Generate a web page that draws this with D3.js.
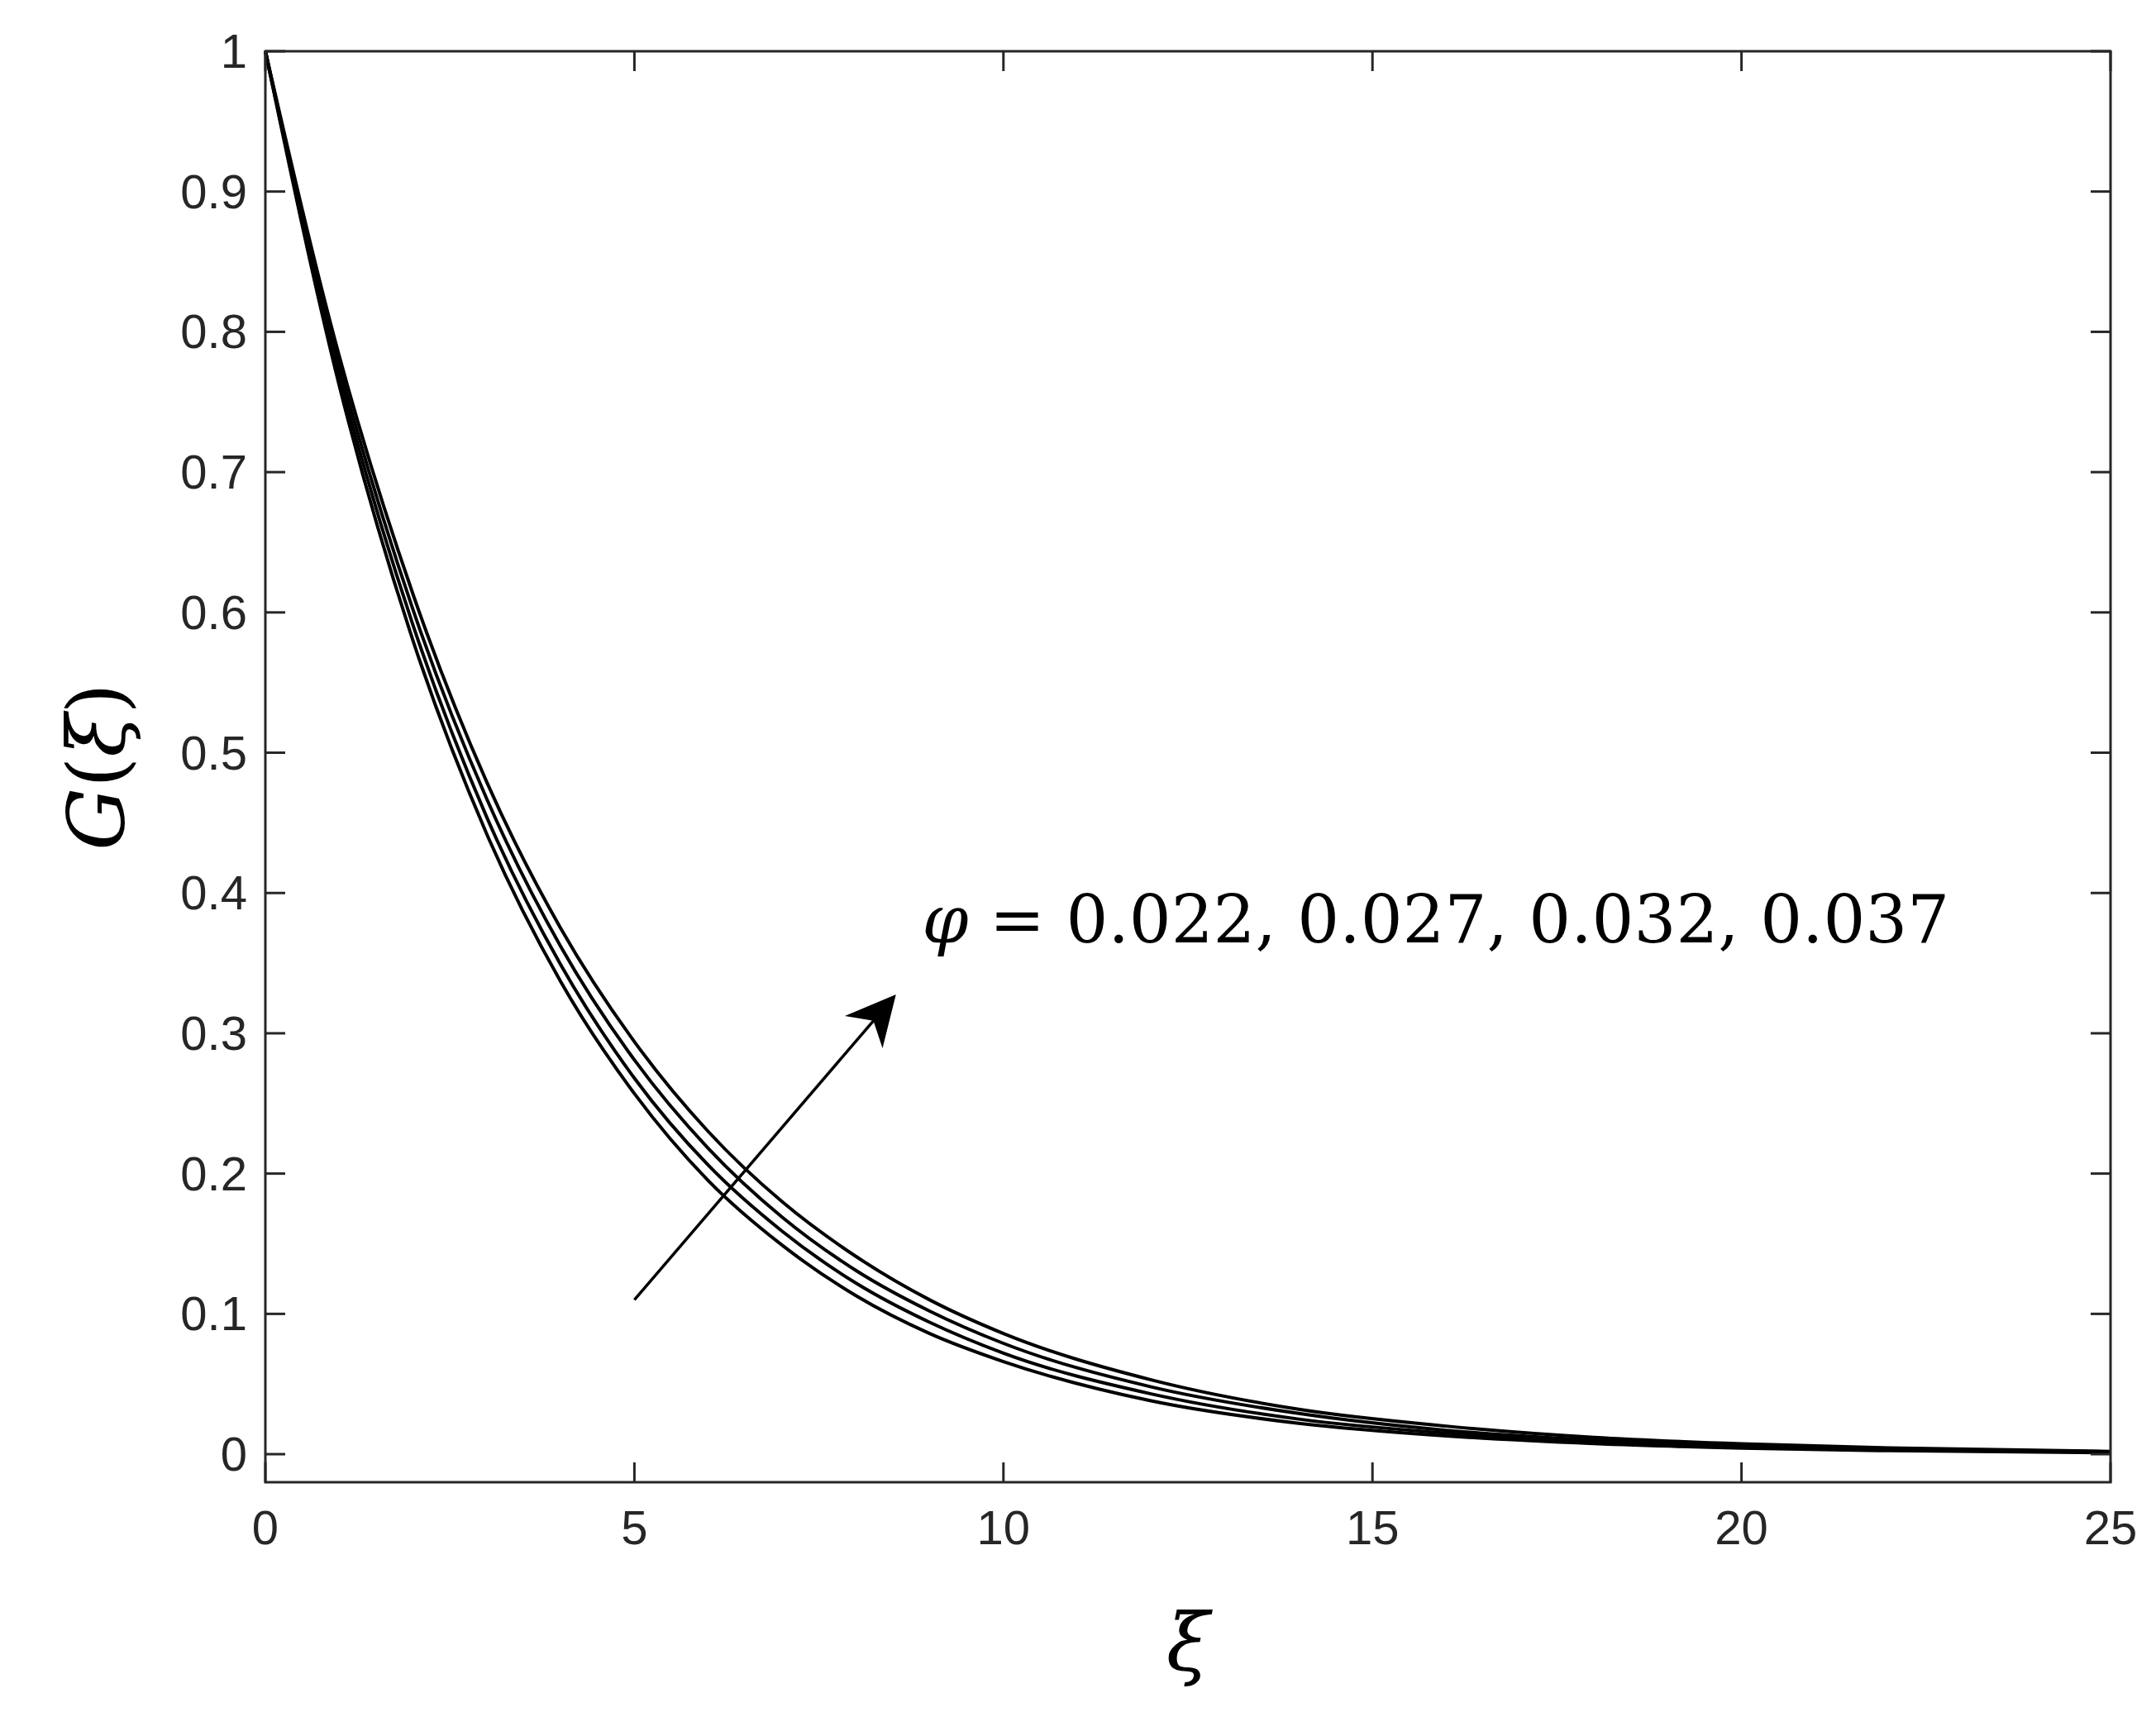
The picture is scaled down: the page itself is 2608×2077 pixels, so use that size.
<!DOCTYPE html><html><head><meta charset="utf-8"><script src="https://d3js.org/d3.v7.min.js"></script>
<style>body{margin:0;background:#fff}</style></head><body><svg id="c" width="2608" height="2077"></svg>
<script>
const xs=[0,1,2,3,4,5,6,7,8,9,10,12,14,16,18,20,22,25];
const g1=[1,0.762,0.580,0.442,0.337,0.257,0.195,0.149,0.113,0.086,0.066,0.038,0.022,0.013,0.0075,0.0043,0.0025,0.001];
const g2=[1,0.769,0.591,0.454,0.349,0.268,0.206,0.159,0.122,0.094,0.072,0.043,0.025,0.015,0.0088,0.0052,0.003,0.0014];
const g3=[1,0.776,0.602,0.467,0.362,0.281,0.218,0.169,0.131,0.102,0.079,0.048,0.029,0.017,0.010,0.006,0.0036,0.0017];
const g4=[1,0.783,0.613,0.479,0.375,0.294,0.230,0.180,0.141,0.110,0.086,0.053,0.032,0.020,0.012,0.0074,0.0045,0.002];
const series=[g1,g2,g3,g4];
const xTicks=[0,5,10,15,20,25];
const yTicks=[0,0.1,0.2,0.3,0.4,0.5,0.6,0.7,0.8,0.9,1];
const svg=d3.select("#c");
const L=321,R=2553,T=62,B=1793;
const x=d3.scaleLinear().domain([0,25]).range([L,R]);
const y=d3.scaleLinear().domain([-0.02,1]).range([B,T]);
const font="Liberation Sans, Arial, sans-serif";
const line=d3.line().x((d,i)=>x(xs[i])).y(d=>y(d)).curve(d3.curveMonotoneX);
svg.selectAll(".s").data(series).enter().append("path").attr("d",line).attr("fill","none").attr("stroke","#000").attr("stroke-width",4);
const tk=24;
const ax=svg.append("g").attr("stroke","#262626").attr("stroke-width",3);
ax.append("rect").attr("x",L).attr("y",T).attr("width",R-L).attr("height",B-T).attr("fill","none");
xTicks.forEach(t=>{ax.append("line").attr("x1",x(t)).attr("x2",x(t)).attr("y1",B).attr("y2",B-tk);ax.append("line").attr("x1",x(t)).attr("x2",x(t)).attr("y1",T).attr("y2",T+tk);
svg.append("text").attr("x",x(t)).attr("y",B+75).attr("text-anchor","middle").attr("font-family",font).attr("font-size",58).attr("fill","#262626").text(t);});
yTicks.forEach(t=>{ax.append("line").attr("x1",L).attr("x2",L+tk).attr("y1",y(t)).attr("y2",y(t));ax.append("line").attr("x1",R).attr("x2",R-tk).attr("y1",y(t)).attr("y2",y(t));
svg.append("text").attr("x",L-22).attr("y",y(t)+20).attr("text-anchor","end").attr("font-family",font).attr("font-size",58).attr("fill","#262626").text(t);});
svg.append("text").attr("x",(L+R)/2).attr("y",2020).attr("text-anchor","middle").attr("font-family","DejaVu Serif, serif").attr("font-style","italic").attr("font-size",95).text("ξ");
svg.append("text").attr("transform",`translate(150,${(T+B)/2}) rotate(-90)`).attr("text-anchor","middle").attr("font-family","DejaVu Serif, serif").attr("font-size",95).html('<tspan font-style="italic">G</tspan>(<tspan font-style="italic">ξ</tspan>)');
svg.append("defs").append("marker").attr("id","ah").attr("viewBox","0 0 10 10").attr("refX",9).attr("refY",5).attr("markerWidth",18).attr("markerHeight",18).attr("markerUnits","userSpaceOnUse").attr("orient","auto").append("path").attr("d","M0,0 L10,5 L0,10 L3,5 z").attr("fill","#000");
svg.select("#ah").attr("markerWidth",70).attr("markerHeight",60);
svg.append("line").attr("x1",x(5)).attr("y1",y(0.11)).attr("x2",x(8.5)).attr("y2",y(0.325)).attr("stroke","#000").attr("stroke-width",3.5).attr("marker-end","url(#ah)");
svg.append("text").attr("x",x(8.9)).attr("y",y(0.365)).attr("font-family","DejaVu Serif, serif").attr("font-size",80).html('<tspan font-style="italic">φ</tspan> = 0.022, 0.027, 0.032, 0.037');
</script></body></html>
